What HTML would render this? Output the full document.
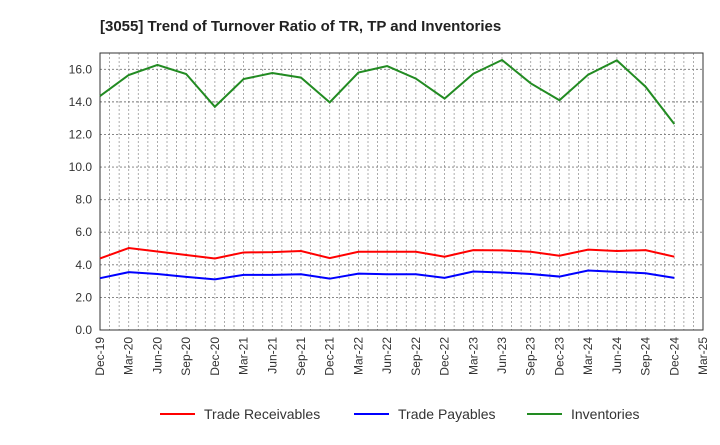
<!DOCTYPE html>
<html><head><meta charset="utf-8"><style>
body{margin:0;background:#fff;font-family:"Liberation Sans",sans-serif}
</style></head><body>
<svg id="c" width="720" height="440" xmlns="http://www.w3.org/2000/svg" font-family="Liberation Sans, sans-serif">
<text x="100" y="31" font-size="15" font-weight="bold" fill="#222">[3055]  Trend of Turnover Ratio of TR, TP and Inventories</text>
</svg>
<script>
const xLabels=["Dec-19","Mar-20","Jun-20","Sep-20","Dec-20","Mar-21","Jun-21","Sep-21","Dec-21","Mar-22","Jun-22","Sep-22","Dec-22","Mar-23","Jun-23","Sep-23","Dec-23","Mar-24","Jun-24","Sep-24","Dec-24","Mar-25"];
const yTicks=[0,2,4,6,8,10,12,14,16];
const receivables=[4.39,5.03,4.82,4.6,4.39,4.76,4.78,4.85,4.41,4.8,4.8,4.8,4.5,4.9,4.89,4.8,4.56,4.93,4.85,4.9,4.5];
const payables=[3.18,3.55,3.44,3.26,3.11,3.38,3.38,3.42,3.15,3.46,3.42,3.42,3.2,3.59,3.53,3.44,3.28,3.65,3.57,3.48,3.2];
const inventories=[14.36,15.65,16.27,15.71,13.7,15.4,15.77,15.49,13.97,15.8,16.2,15.43,14.2,15.73,16.57,15.14,14.1,15.67,16.55,14.93,12.64];
const L=100,R=703,T=53,B=330,yMax=17;
const svg=document.getElementById('c');const NS="http://www.w3.org/2000/svg";
const months=63;
const xm=m=>L+(R-L)*m/months;
const xq=i=>xm(i*3);
const y=v=>B-(B-T)*v/yMax;
function mk(t,a,p){const e=document.createElementNS(NS,t);for(const k in a)e.setAttribute(k,a[k]);(p||svg).appendChild(e);return e;}
for(let m=1;m<months;m++){const g=mk('line',{x1:xm(m),x2:xm(m),y1:T,y2:B,stroke:'#999','stroke-dasharray':'2,2','stroke-width':0.8});

}
yTicks.forEach(v=>{if(v>0){const g=mk('line',{x1:L,x2:R,y1:y(v),y2:y(v),stroke:'#777','stroke-dasharray':'2,2','stroke-width':0.9});

}
const t=mk('text',{x:L-8,y:y(v)+4,'text-anchor':'end','font-size':12,fill:'#333'});t.textContent=v.toFixed(1);

});
xLabels.forEach((s,i)=>{const x=xq(i);const t=mk('text',{transform:`translate(${x+4},${B+7}) rotate(-90)`,'text-anchor':'end','font-size':12,fill:'#333'});t.textContent=s;

});
const fr=mk('rect',{x:L,y:T,width:R-L,height:B-T,fill:'none',stroke:'#333','stroke-width':1});


function series(d,c,n){const p=mk('polyline',{points:d.map((v,i)=>xq(i)+','+y(v)).join(' '),fill:'none',stroke:c,'stroke-width':2});

}
series(receivables,'#ff0000','trade-receivables-line');
series(payables,'#0000ff','trade-payables-line');
series(inventories,'#228b22','inventories-line');
[["Trade Receivables","#ff0000",160],["Trade Payables","#0000ff",354],["Inventories","#228b22",527]].forEach(([s,c,x])=>{
const g=mk('g',{});


mk('line',{x1:x,x2:x+35,y1:414,y2:414,stroke:c,'stroke-width':2},g);
const t=mk('text',{x:x+44,y:419,'font-size':14,fill:'#333'},g);t.textContent=s;});
</script>
</body></html>
